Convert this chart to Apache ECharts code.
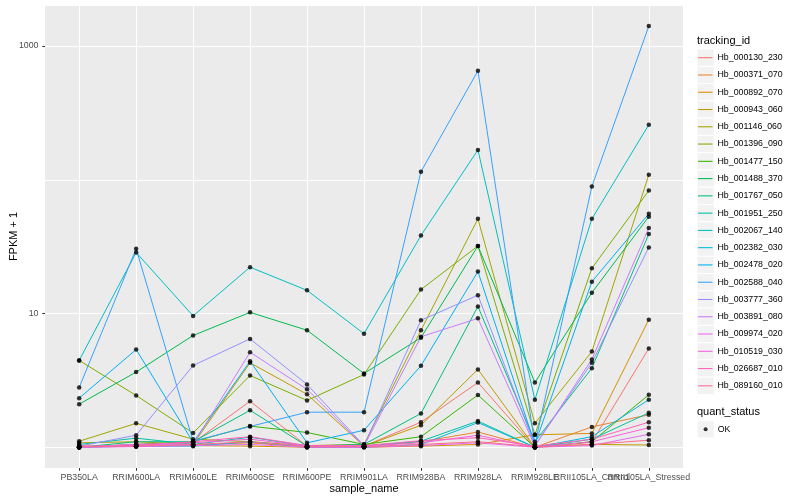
<!DOCTYPE html>
<html>
<head>
<meta charset="utf-8">
<script src="https://cdn.jsdelivr.net/npm/echarts@6.0.0/dist/echarts.min.js"></script>
<style>
html,body{margin:0;padding:0;background:#ffffff;}
#chart{width:800px;height:500px;}
</style>
</head>
<body>
<div id="chart"></div>
<script>
// ---- data (FPKM + 1) ----
const categories = ['PB350LA','RRIM600LA','RRIM600LE','RRIM600SE','RRIM600PE','RRIM901LA','RRIM928BA','RRIM928LA','RRIM928LE','RRII105LA_Control','RRII105LA_Stressed'];
const trackingIds = ['Hb_000130_230','Hb_000371_070','Hb_000892_070','Hb_000943_060','Hb_001146_060','Hb_001396_090','Hb_001477_150','Hb_001488_370','Hb_001767_050','Hb_001951_250','Hb_002067_140','Hb_002382_030','Hb_002478_020','Hb_002588_040','Hb_003777_360','Hb_003891_080','Hb_009974_020','Hb_010519_030','Hb_026687_010','Hb_089160_010'];
const colors = ['#F8766D','#EA8331','#D89000','#C09B00','#A3A500','#7CAE00','#39B600','#00BB4E','#00BF7D','#00C1A3','#00BFC4','#00BAE0','#00B0F6','#35A2FF','#9590FF','#C77CFF','#E76BF3','#FA62DB','#FF62BC','#FF6C91'];

const hb000130 = [1.00, 1.05, 1.08, 2.21, 1.02, 1.02, 1.54, 3.05, 1.00, 1.09, 5.48];
const hb000371 = [1.00, 1.02, 1.04, 1.08, 1.00, 1.02, 1.10, 1.30, 1.00, 1.42, 1.75];
const hb000892 = [1.02, 1.02, 1.03, 1.02, 1.00, 1.00, 1.02, 1.05, 1.24, 1.27, 9.0];
const hb000943 = [1.08, 1.10, 1.05, 4.28, 2.49, 1.02, 1.46, 3.82, 1.00, 1.05, 1.04];
const hb001146 = [1.11, 1.51, 1.15, 1.10, 1.03, 1.05, 7.5, 51, 1.51, 5.2, 109];
const hb001396 = [4.46, 2.44, 1.28, 3.44, 2.24, 3.50, 15.1, 32, 1.24, 21.8, 83];
const hb001477 = [1.00, 1.05, 1.10, 1.44, 1.29, 1.05, 1.20, 2.46, 1.00, 1.10, 2.47];
const hb001488 = [2.10, 3.65, 6.85, 10.2, 7.5, 3.56, 6.6, 32, 3.05, 14.3, 53];
const hb001767 = [1.00, 1.10, 1.10, 1.89, 1.02, 1.05, 1.79, 11.3, 1.10, 3.9, 39.3];
const hb001951 = [1.05, 1.17, 1.05, 1.19, 1.02, 1.02, 1.11, 1.57, 1.00, 1.15, 1.81];
const hb002067 = [4.46, 28.6, 9.6, 22.2, 14.9, 7.06, 38.3, 167, 2.27, 51, 258];
const hb002382 = [1.00, 1.02, 1.02, 1.10, 1.00, 1.00, 1.05, 1.53, 1.00, 1.20, 2.27];
const hb002478 = [2.33, 5.38, 1.09, 4.40, 1.08, 1.34, 4.07, 20.6, 1.05, 17.3, 55.7];
const hb002588 = [2.80, 30.5, 1.11, 1.43, 1.83, 1.83, 115, 652, 1.05, 89, 1409];
const hb003777 = [1.02, 1.23, 4.09, 6.46, 2.95, 1.03, 8.9, 13.7, 1.03, 4.28, 31.2];
const hb003891 = [1.00, 1.05, 1.05, 5.14, 2.71, 1.02, 6.7, 9.2, 1.02, 4.54, 43.6];
const hb009974 = [1.00, 1.01, 1.03, 1.05, 1.00, 1.00, 1.03, 1.08, 1.00, 1.03, 1.25];
const hb010519 = [1.00, 1.05, 1.08, 1.15, 1.02, 1.02, 1.08, 1.23, 1.00, 1.10, 1.40];
const hb026687 = [1.02, 1.03, 1.10, 1.20, 1.03, 1.03, 1.12, 1.18, 1.02, 1.15, 1.54];
const hb089160 = [1.01, 1.02, 1.05, 1.10, 1.01, 1.01, 1.05, 1.10, 1.01, 1.05, 1.13];

const seriesValues = [hb000130, hb000371, hb000892, hb000943, hb001146, hb001396, hb001477, hb001488, hb001767, hb001951, hb002067, hb002382, hb002478, hb002588, hb003777, hb003891, hb009974, hb010519, hb026687, hb089160];
const yTickLabels = [10, 1000];
const quantStatus = ['OK'];
const Y_MIN = 0.7;
const Y_MAX = 2025;

// ---- layout constants ----
const FONT = '"Liberation Sans", Arial, Helvetica, sans-serif';
const GRID = {left: 45, right: 117, top: 5, bottom: 32};
const KEY = 17.27;
const LEG_X = 697;
const LEG_TOP = 49.07;
const LEG2_TOP = 420.7;

const idx = categories.map((c, i) => i);
const evenIdx = idx.filter(i => i % 2 === 0);
const oddIdx = idx.filter(i => i % 2 === 1);
const X_MIN = -0.6;
const X_MAX = categories.length - 1 + 0.6;

const lineSeries = trackingIds.map((id, s) => ({
  name: id,
  type: 'line',
  symbol: 'none',
  data: seriesValues[s].map((v, i) => [i, v]),
  lineStyle: {color: colors[s], width: 1},
  itemStyle: {color: colors[s]},
  emphasis: {disabled: true},
  z: 2
}));

const pointData = [];
seriesValues.forEach(vals => vals.forEach((v, i) => pointData.push([i, v])));

const graphics = [];
trackingIds.forEach((id, s) => {
  graphics.push({type: 'rect', z: 0, shape: {x: LEG_X, y: LEG_TOP + s * KEY, width: KEY, height: KEY},
    style: {fill: '#F2F2F2', stroke: '#FFFFFF', lineWidth: 1}});
});
graphics.push({type: 'rect', z: 0, shape: {x: LEG_X, y: LEG2_TOP, width: KEY, height: KEY},
  style: {fill: '#F2F2F2', stroke: '#FFFFFF', lineWidth: 1}});
graphics.push({type: 'text', z: 1, x: LEG_X, y: 40.7, style: {text: 'tracking_id', fill: '#000', font: '11px ' + FONT, verticalAlign: 'middle', align: 'left'}});
graphics.push({type: 'text', z: 1, x: LEG_X, y: 412.3, style: {text: 'quant_status', fill: '#000', font: '11px ' + FONT, verticalAlign: 'middle', align: 'left'}});

const xLabelStyle = {formatter: v => categories[Math.round(v)], color: '#4D4D4D', fontSize: 8.8, margin: 5, fontFamily: FONT,
  showMinLabel: true, showMaxLabel: true, hideOverlap: false};

const chart = echarts.init(document.getElementById('chart'), null, {renderer: 'canvas'});
chart.setOption({
  animation: false,
  backgroundColor: '#ffffff',
  textStyle: {fontFamily: FONT},
  grid: {left: GRID.left, right: GRID.right, top: GRID.top, bottom: GRID.bottom, show: true,
    backgroundColor: '#EBEBEB', borderWidth: 0, containLabel: false, outerBoundsMode: 'none'},
  xAxis: [
    {
      type: 'value', position: 'bottom', min: X_MIN, max: X_MAX,
      axisLine: {show: false, onZero: false},
      axisTick: {show: true, customValues: idx, length: 2.74, lineStyle: {color: '#333333', width: 1.07}},
      axisLabel: Object.assign({customValues: evenIdx}, xLabelStyle),
      splitLine: {show: true, lineStyle: {color: '#FFFFFF', width: 1.07}},
      name: 'sample_name', nameLocation: 'middle', nameGap: 15.5, nameMoveOverlap: false,
      nameTextStyle: {color: '#000', fontSize: 11, fontFamily: FONT}
    },
    {
      type: 'value', position: 'bottom', offset: 0, min: X_MIN, max: X_MAX,
      axisLine: {show: false, onZero: false},
      axisTick: {show: false},
      axisLabel: Object.assign({customValues: oddIdx}, xLabelStyle),
      splitLine: {show: false}
    }
  ],
  yAxis: [
    {
      type: 'log', logBase: 10, min: Y_MIN, max: Y_MAX, position: 'left',
      axisLine: {show: false, onZero: false}, axisTick: {show: false}, axisLabel: {show: false},
      splitLine: {show: true, lineStyle: {color: '#FFFFFF', width: 1.07}}
    },
    {
      type: 'value', position: 'left', offset: 0, min: Math.log10(Y_MIN), max: Math.log10(Y_MAX),
      axisLine: {show: false, onZero: false},
      axisTick: {show: true, customValues: yTickLabels.map(Math.log10), length: 2.74, lineStyle: {color: '#333333', width: 1.07}},
      axisLabel: {customValues: yTickLabels.map(Math.log10), formatter: v => String(Math.round(Math.pow(10, v))), color: '#4D4D4D', fontSize: 8.8, margin: 6.5, fontFamily: FONT},
      splitLine: {show: false},
      name: 'FPKM + 1', nameLocation: 'middle', nameGap: 26, nameMoveOverlap: false,
      nameTextStyle: {color: '#000', fontSize: 11, fontFamily: FONT}
    }
  ],
  legend: [
    {
      data: trackingIds, orient: 'vertical', left: LEG_X + 1, top: LEG_TOP, padding: 0,
      icon: 'rect', itemWidth: 14.5, itemHeight: 1.07, itemGap: 0, selectedMode: false,
      textStyle: {color: '#000', fontSize: 8.8, fontFamily: FONT, lineHeight: KEY}
    },
    {
      data: quantStatus, orient: 'vertical', left: LEG_X + KEY / 2 - 2, top: LEG2_TOP, padding: 0,
      icon: 'circle', itemWidth: 4, itemHeight: 4, itemGap: 0, selectedMode: false,
      textStyle: {color: '#000', fontSize: 8.8, fontFamily: FONT, lineHeight: KEY, padding: [0, 0, 0, 5]}
    }
  ],
  graphic: {elements: graphics},
  series: lineSeries.concat([{
    name: 'OK', type: 'scatter', symbol: 'circle', symbolSize: 4.5,
    data: pointData, itemStyle: {color: '#000000'}, emphasis: {disabled: true}, z: 3
  }])
});
</script>
</body>
</html>
